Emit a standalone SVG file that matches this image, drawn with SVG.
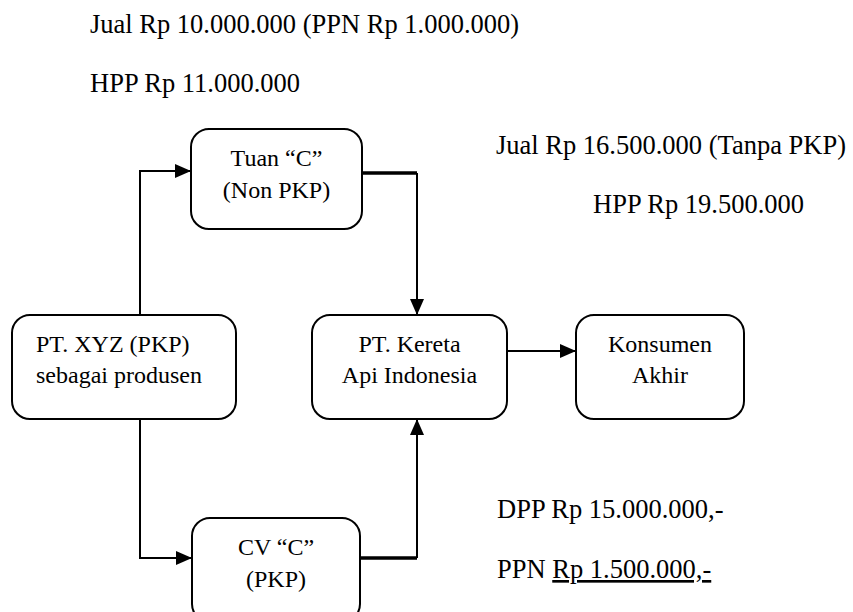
<svg xmlns="http://www.w3.org/2000/svg" width="853" height="612" viewBox="0 0 853 612">
<style>
.box{fill:#fff;stroke:#000;stroke-width:2}
.t{font-family:'Liberation Serif','DejaVu Serif','Times New Roman',Times,serif;font-size:24px;fill:#000}
.lbl{font-family:'Liberation Serif','DejaVu Serif','Times New Roman',Times,serif;font-size:26.5px;fill:#000}
.c{text-anchor:middle}
.con{fill:none;stroke:#000;stroke-width:2}
.thick{fill:none;stroke:#000;stroke-width:3.5}
</style>
<defs>
<marker id="ah" markerUnits="userSpaceOnUse" markerWidth="16" markerHeight="14" refX="16" refY="7" orient="auto">
<path d="M0,0 L16,7 L0,14 z" fill="#000"/>
</marker>
</defs>
<rect width="853" height="612" fill="#fff"/>
<g id="labels">
<text class="lbl" x="90" y="33">Jual Rp 10.000.000 (PPN Rp 1.000.000)</text>
<text class="lbl" x="90" y="92">HPP Rp 11.000.000</text>
<text class="lbl" x="496" y="154">Jual Rp 16.500.000 (Tanpa PKP)</text>
<text class="lbl" x="593" y="213">HPP Rp 19.500.000</text>
<text class="lbl" x="497" y="518">DPP Rp 15.000.000,-</text>
<text class="lbl" x="497" y="578">PPN <tspan text-decoration="underline">Rp 1.500.000,-</tspan></text>
</g>
<g id="connectors">
<path class="con" d="M140,315 V171 H191" marker-end="url(#ah)"/>
<path class="thick" d="M362,173 H417"/>
<path class="con" d="M417,173 V315" marker-end="url(#ah)"/>
<path class="con" d="M140,419 V558 H192" marker-end="url(#ah)"/>
<path class="thick" d="M360,558 H417"/>
<path class="con" d="M417,558 V419" marker-end="url(#ah)"/>
<path class="con" d="M507,351 H576" marker-end="url(#ah)"/>
</g>
<g id="tuan">
<rect class="box" x="191" y="129" width="171" height="100" rx="18"/>
<text class="t c" x="276.5" y="166">Tuan “C”</text>
<text class="t c" x="276.5" y="198">(Non PKP)</text>
</g>
<g id="xyz">
<rect class="box" x="12" y="315" width="224" height="104" rx="18"/>
<text class="t" x="36" y="352">PT. XYZ (PKP)</text>
<text class="t" x="36" y="383">sebagai produsen</text>
</g>
<g id="kereta">
<rect class="box" x="312" y="315" width="195" height="104" rx="18"/>
<text class="t c" x="409.5" y="352">PT. Kereta</text>
<text class="t c" x="409.5" y="383">Api Indonesia</text>
</g>
<g id="konsumen">
<rect class="box" x="576" y="315" width="168" height="104" rx="18"/>
<text class="t c" x="660" y="352">Konsumen</text>
<text class="t c" x="660" y="383">Akhir</text>
</g>
<g id="cv">
<rect class="box" x="192" y="518" width="168" height="104" rx="18"/>
<text class="t c" x="276" y="555">CV “C”</text>
<text class="t c" x="276" y="587">(PKP)</text>
</g>
</svg>
